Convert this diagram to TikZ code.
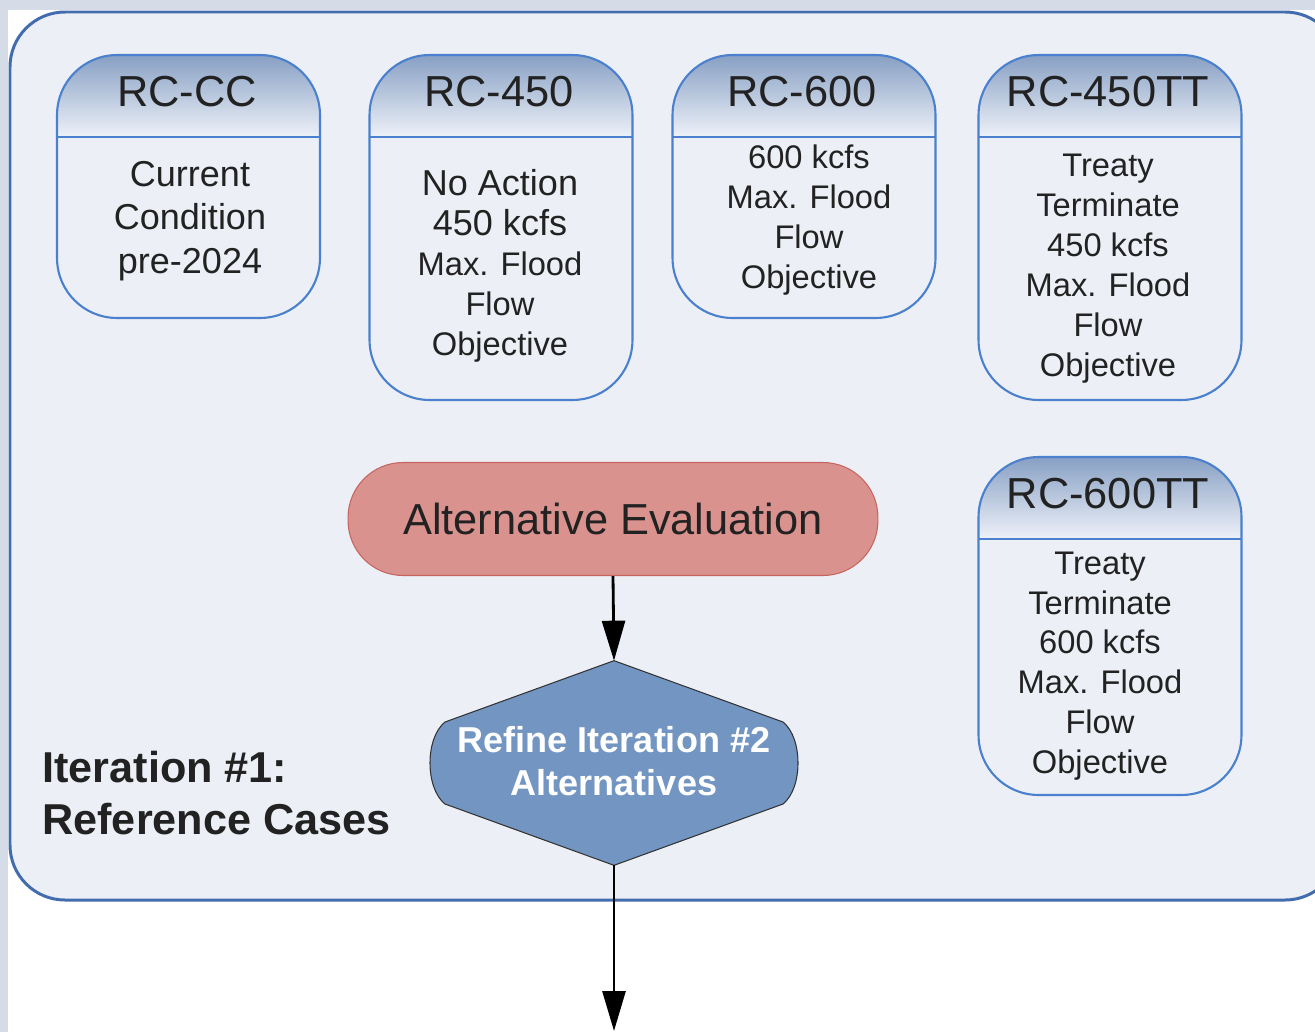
\documentclass[tikz,border=0pt]{standalone}
\usepackage{fontspec}
\setmainfont{Liberation Sans}
\usepackage{tikz}
\usetikzlibrary{arrows.meta,positioning,calc}
\definecolor{StripGray}{RGB}{214,220,231}
\definecolor{PanelFill}{RGB}{236,240,246}
\definecolor{PanelLine}{RGB}{66,108,174}
\definecolor{CardLine}{RGB}{74,128,206}
\definecolor{HeadTop}{RGB}{136,160,196}
\definecolor{HeadBot}{RGB}{236,240,247}
\definecolor{EvalFill}{RGB}{217,146,142}
\definecolor{EvalLine}{RGB}{200,100,95}
\definecolor{RefineFill}{RGB}{114,149,194}
\definecolor{TxtDark}{RGB}{34,34,34}

\begin{document}
\begin{tikzpicture}[x=0.02cm, y=-0.02cm,
    every node/.style={align=center, text=TxtDark},
    card/.style={draw=CardLine, line width=1.2pt, fill=PanelFill,
      rounded corners=1.2cm, minimum width=5.26cm, inner sep=0pt,
      path picture={
        \fill[sharp corners, HeadTop]
          ([yshift=0.2cm]path picture bounding box.north west) rectangle
          (path picture bounding box.north east);
        \foreach \k [evaluate=\k as \pct using \k*2.5] in {0,...,40}
          \fill[sharp corners, HeadBot!\pct!HeadTop]
            ([yshift={-\k*0.04cm}]path picture bounding box.north west) rectangle
            ([yshift={-\k*0.04cm-0.05cm}]path picture bounding box.north east);
        \draw[sharp corners, CardLine, line width=1.2pt]
          ([yshift=-1.64cm]path picture bounding box.north west) --
          ([yshift=-1.64cm]path picture bounding box.north east);
      }},
    cardtitle/.style={font=\fontsize{24.7}{28}\selectfont},
    cardbody/.style={font=\fontsize{18.6}{22.7}\selectfont},
    bigbody/.style={font=\fontsize{20.5}{24.9}\selectfont},
    flow/.style={-{Triangle[length=0.8cm,width=0.46cm]}, line width=1.6pt, black}]
  \useasboundingbox (0,0) rectangle (1315,1032);
  \fill[white] (0,0) rectangle (1315,1032);
  \fill[StripGray] (0,0) rectangle (1315,10);
  \fill[StripGray] (0,0) rectangle (8,1032);

  % outer panel
  \draw[PanelLine, line width=1.7pt, fill=PanelFill, rounded corners=1.1cm]
    (10,12) rectangle (1340,900);

  % reference cases
  \node[card, minimum height=5.26cm] (rccc) at (188.5,186.5) {};
  \node[cardtitle] (rccctitle) at (187,92) {RC-CC};
  \node[bigbody] (rcccbody) at (190,221) {Current\\Condition\\pre-2024};

  \node[card, minimum height=6.9cm] (rc450) at (501,227.5) {};
  \node[cardtitle] (rc450title) at (499,92) {RC-450};
  \node[cardbody] (rc450body) at (500,266)
    {{\fontsize{20.5}{24.9}\selectfont No Action}\\
     {\fontsize{20.5}{24.9}\selectfont 450 kcfs}\\Max. Flood\\Flow\\Objective};

  \node[card, minimum height=5.26cm] (rc600) at (804,186.5) {};
  \node[cardtitle] (rc600title) at (802,92) {RC-600};
  \node[cardbody] (rc600body) at (809,220) {600 kcfs\\Max. Flood\\Flow\\Objective};

  \node[card, minimum height=6.9cm] (rc450tt) at (1110,227.5) {};
  \node[cardtitle] (rc450tttitle) at (1108,92) {RC-450TT};
  \node[cardbody] (rc450ttbody) at (1108,268.5)
    {Treaty\\Terminate\\450 kcfs\\Max. Flood\\Flow\\Objective};

  \node[card, minimum height=6.76cm] (rc600tt) at (1110,626) {};
  \node[cardtitle] (rc600tttitle) at (1108,494) {RC-600TT};
  \node[cardbody] (rc600ttbody) at (1100,666)
    {Treaty\\Terminate\\600 kcfs\\Max. Flood\\Flow\\Objective};

  % evaluation and refinement
  \node[draw=EvalLine, fill=EvalFill, line width=0.6pt, rounded corners=1.1cm,
    minimum width=10.6cm, minimum height=2.26cm, font=\fontsize{24.7}{28}\selectfont]
    (alteval) at (613,519) {Alternative Evaluation};

  \node[minimum width=7.34cm, minimum height=4.08cm, inner sep=0pt]
    (refine) at (614,763) {};
  \filldraw[fill=RefineFill, draw=black!80, line width=0.6pt]
    (refine.north) -- ($(refine.center)+(-169,-41)$)
    .. controls ($(refine.center)+(-189,-25)$) and ($(refine.center)+(-189,25)$) ..
    ($(refine.center)+(-169,41)$) -- (refine.south)
    -- ($(refine.center)+(169,41)$)
    .. controls ($(refine.center)+(189,25)$) and ($(refine.center)+(189,-25)$) ..
    ($(refine.center)+(169,-41)$) -- cycle;
  \node[text=white, font=\bfseries\fontsize{20.5}{24.4}\selectfont]
    (refinetext) at ([yshift=0.04cm]refine.center) {Refine Iteration \#2\\Alternatives};

  \node[anchor=west, align=left, inner sep=0pt, font=\bfseries\fontsize{24.6}{30}\selectfont]
    (iterlabel) at (42,793) {Iteration \#1:\\Reference Cases};

  \coordinate (exitpt) at (614,1031);
  \draw[flow] (alteval.south) -- (refine.north);
  \draw[flow] (refine.south) -- (exitpt);
\end{tikzpicture}
\end{document}
